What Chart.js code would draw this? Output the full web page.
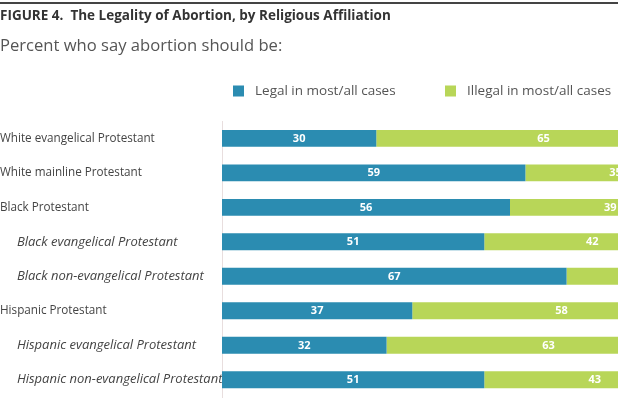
<!DOCTYPE html>
<html>
<head>
<meta charset="utf-8">
<script src="https://cdn.jsdelivr.net/npm/chart.js@4.4.0/dist/chart.umd.min.js"></script>
<style>
  html, body { margin: 0; padding: 0; background: #fff; }
  #wrap { width: 618px; height: 400px; position: relative; }
</style>
</head>
<body>
<div id="wrap"><canvas id="chart"></canvas></div>
<script>
// Religious groups (top to bottom)
const groups = [
    'White evangelical Protestant',
    'White mainline Protestant',
    'Black Protestant',
    'Black evangelical Protestant',
    'Black non-evangelical Protestant',
    'Hispanic Protestant',
    'Hispanic evangelical Protestant',
    'Hispanic non-evangelical Protestant'
];
// subgroups are shown in italics and indented
const subgroup = [false, false, false, true, true, false, true, true];

const legalPct = [30, 59, 56, 51, 67, 37, 32, 51];
const illegalPct = [65, 35, 39, 42, 29, 58, 63, 43];

const BLUE = '#2b8cb1';
const GREEN = '#b8d658';

// thin rule across the top of the figure
const topRule = {
    id: 'topRule',
    beforeDraw(chart) {
        const c = chart.ctx;
        c.save();
        c.fillStyle = '#444';
        c.fillRect(0, 2, chart.width, 2);
        c.restore();
    }
};

// legend row, laid out like the original (items spread out, overflowing right edge)
const legendRow = {
    id: 'legendRow',
    afterDraw(chart) {
        const c = chart.ctx;
        const xs = [233, 445];
        const y = 91;
        c.save();
        c.font = '13.5px "Open Sans"';
        c.textBaseline = 'middle';
        c.textAlign = 'left';
        chart.data.datasets.forEach((ds, i) => {
            c.fillStyle = ds.backgroundColor;
            c.fillRect(xs[i], y - 5.5, 11, 11);
            c.fillStyle = '#555';
            c.fillText(ds.label, xs[i] + 22, y);
        });
        c.restore();
    }
};

// value labels in the middle of each segment
const segLabels = {
    id: 'segLabels',
    afterDatasetsDraw(chart) {
        const c = chart.ctx;
        const x = chart.scales.x;
        c.save();
        c.font = 'bold 11px "Open Sans"';
        c.fillStyle = '#fff';
        c.textAlign = 'center';
        c.textBaseline = 'middle';
        chart.data.datasets.forEach((ds, i) => {
            const meta = chart.getDatasetMeta(i);
            ds.data.forEach((v, j) => {
                let start = 0;
                for (let k = 0; k < i; k++) start += chart.data.datasets[k].data[j];
                const px = x.getPixelForValue(start + v / 2);
                c.fillText(String(v), px, meta.data[j].y + 0.5);
            });
        });
        c.restore();
    }
};

new Chart(document.getElementById('chart'), {
    type: 'bar',
    data: {
        labels: groups,
        datasets: [
            { label: 'Legal in most/all cases', data: legalPct, backgroundColor: BLUE },
            { label: 'Illegal in most/all cases', data: illegalPct, backgroundColor: GREEN }
        ]
    },
    options: {
        indexAxis: 'y',
        responsive: true,
        maintainAspectRatio: false,
        animation: false,
        layout: { padding: { top: 0, right: 0, bottom: 3, left: 0 } },
        datasets: { bar: { barPercentage: 0.98, categoryPercentage: 0.5 } },
        plugins: {
            title: {
                display: true,
                text: 'FIGURE 4.  The Legality of Abortion, by Religious Affiliation',
                align: 'start',
                color: '#333',
                font: { family: 'Open Sans', size: 13.5, weight: 'bold' },
                padding: { top: 8, bottom: 6 }
            },
            subtitle: {
                display: true,
                text: 'Percent who say abortion should be:',
                align: 'start',
                color: '#555',
                font: { family: 'Open Sans', size: 16.6 },
                padding: { top: 6, bottom: 65 }
            },
            legend: { display: false },
            tooltip: { enabled: false }
        },
        scales: {
            x: {
                stacked: true,
                min: 0,
                max: 77,
                display: false
            },
            y: {
                stacked: true,
                grid: { display: false },
                border: { color: '#e8dede', width: 1 },
                afterFit(scale) {
                    scale.width = 222;
                    scale.paddingTop = 0;
                    scale.paddingBottom = 0;
                },
                ticks: {
                    crossAlign: 'far',
                    color: '#444',
                    padding: 4,
                    font: ctx => ({
                        family: 'Open Sans',
                        size: subgroup[ctx.index] ? 13 : 11.7,
                        style: subgroup[ctx.index] ? 'italic' : 'normal'
                    }),
                    callback: function(value, i) {
                        return (subgroup[i] ? '     ' : '') + groups[i];
                    }
                }
            }
        }
    },
    plugins: [topRule, legendRow, segLabels]
});
</script>
</body>
</html>
